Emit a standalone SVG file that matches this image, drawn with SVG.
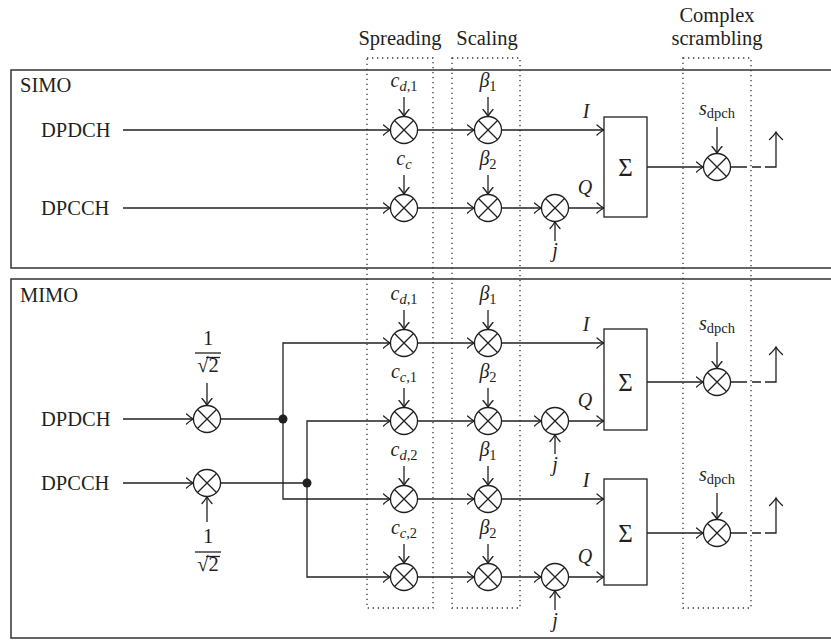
<svg xmlns="http://www.w3.org/2000/svg" xmlns:xlink="http://www.w3.org/1999/xlink" width="831" height="640" viewBox="0 0 831 640">
<style>
text{font-family:"Liberation Serif","Times New Roman",serif;fill:#231f20}
.t{font-size:20.5px}
.lab{font-size:20.5px;text-anchor:middle}
.m{font-size:20px;font-style:italic;text-anchor:middle}
.si{font-size:14.5px;font-style:italic}
.su{font-size:14.5px;font-style:normal}
.sig{font-size:25px;text-anchor:middle}
.frame{fill:none;stroke:#333;stroke-width:1.5}
.stage{fill:none;stroke:#333;stroke-width:1.3;stroke-dasharray:1.3 3.7}
.c{fill:none;stroke:#231f20;stroke-width:1.3}
.ca{fill:none;stroke:#231f20;stroke-width:1.3;marker-end:url(#arr)}
.ant{fill:none;stroke:#231f20;stroke-width:1.3;marker-end:url(#arrbig)}
.box{fill:#fff;stroke:#231f20;stroke-width:1.3}
.mc{fill:#fff;stroke:#231f20;stroke-width:1.3}
.dot{fill:#231f20}
</style>
<defs>
<marker id="arr" viewBox="-8 -6 10 12" refX="0" refY="0" markerWidth="10" markerHeight="12" markerUnits="userSpaceOnUse" orient="auto">
<path d="M-7,-5 Q-2.5,-1 0,0 Q-2.5,1 -7,5" fill="none" stroke="#231f20" stroke-width="1.3" stroke-linecap="round"/>
</marker>
<marker id="arrbig" viewBox="-9 -8 11 16" refX="0" refY="0" markerWidth="11" markerHeight="16" markerUnits="userSpaceOnUse" orient="auto">
<path d="M-7.5,-6.5 Q-2.5,-1.2 0,0 Q-2.5,1.2 -7.5,6.5" fill="none" stroke="#231f20" stroke-width="1.3" stroke-linecap="round"/>
</marker>
<g id="mul">
<circle class="mc" r="13.5"/>
<path class="c" d="M-9.5,-9.5 L9.5,9.5 M-9.5,9.5 L9.5,-9.5"/>
</g>
</defs>
<rect width="831" height="640" fill="#fff"/>

<!-- frames -->
<g id="frames">
<path class="frame" d="M832,70 H11 V268 H832"/>
<path class="frame" d="M832,279 H11 V638 H832"/>
<text class="t" x="20" y="92">SIMO</text>
<text class="t" x="20" y="302">MIMO</text>
</g>

<!-- stage boxes -->
<g id="stages">
<rect class="stage" x="367" y="58" width="66" height="550"/>
<rect class="stage" x="452" y="58" width="68" height="550"/>
<rect class="stage" x="683" y="58" width="68" height="550"/>
<text class="lab" x="400" y="45">Spreading</text>
<text class="lab" x="487" y="45">Scaling</text>
<text class="lab" x="717" y="22">Complex</text>
<text class="lab" x="717" y="45">scrambling</text>
</g>

<!-- connectors -->
<g id="connectors">
<!-- SIMO -->
<path class="ca" d="M123,130 H390.5"/>
<path class="ca" d="M123,208 H390.5"/>
<path class="ca" d="M417.5,130 H474.5"/>
<path class="ca" d="M417.5,208 H474.5"/>
<path class="ca" d="M501.5,130 H604"/>
<path class="ca" d="M501.5,208 H541.5"/>
<path class="ca" d="M568.5,208 H604"/>
<path class="ca" d="M404,97 V116.5"/>
<path class="ca" d="M488,97 V116.5"/>
<path class="ca" d="M404,175 V194.5"/>
<path class="ca" d="M488,175 V194.5"/>
<path class="ca" d="M555,241 V221.5"/>
<path class="ca" d="M647,167 H703.5"/>
<path class="ca" d="M717,127 V153.5"/>
<path class="c" d="M730.5,167 H747 M752,167 H761"/>
<path class="ant" d="M765,167 H776 V132"/>
<!-- MIMO inputs -->
<path class="ca" d="M123,419 H193.5"/>
<path class="ca" d="M123,483 H193.5"/>
<path class="ca" d="M207,383 V405.5"/>
<path class="ca" d="M207,522 V496.5"/>
<path class="c" d="M220.5,419 H283"/>
<path class="c" d="M220.5,483 H307"/>
<path class="ca" d="M283,419 V343 H390.5"/>
<path class="ca" d="M283,419 V499 H390.5"/>
<path class="ca" d="M307,483 V421 H390.5"/>
<path class="ca" d="M307,483 V577 H390.5"/>
<!-- MIMO stages -->
<path class="ca" d="M417.5,343 H474.5"/>
<path class="ca" d="M417.5,421 H474.5"/>
<path class="ca" d="M417.5,499 H474.5"/>
<path class="ca" d="M417.5,577 H474.5"/>
<path class="ca" d="M501.5,343 H604"/>
<path class="ca" d="M501.5,421 H541.5"/>
<path class="ca" d="M568.5,421 H604"/>
<path class="ca" d="M501.5,499 H604"/>
<path class="ca" d="M501.5,577 H541.5"/>
<path class="ca" d="M568.5,577 H604"/>
<path class="ca" d="M404,310 V329.5"/>
<path class="ca" d="M488,310 V329.5"/>
<path class="ca" d="M404,388 V407.5"/>
<path class="ca" d="M488,388 V407.5"/>
<path class="ca" d="M404,466 V485.5"/>
<path class="ca" d="M488,466 V485.5"/>
<path class="ca" d="M404,544 V563.5"/>
<path class="ca" d="M488,544 V563.5"/>
<path class="ca" d="M555,454 V434.5"/>
<path class="ca" d="M555,610 V590.5"/>
<path class="ca" d="M647,382 H703.5"/>
<path class="ca" d="M717,342 V368.5"/>
<path class="c" d="M730.5,382 H747 M752,382 H761"/>
<path class="ant" d="M765,382 H776 V347"/>
<path class="ca" d="M647,533 H703.5"/>
<path class="ca" d="M717,493 V519.5"/>
<path class="c" d="M730.5,533 H747 M752,533 H761"/>
<path class="ant" d="M765,533 H776 V498"/>
</g>

<!-- SIMO nodes -->
<g id="simo-dpdch"><text class="t" x="41" y="137">DPDCH</text></g>
<g id="simo-dpcch"><text class="t" x="41" y="215">DPCCH</text></g>
<g id="simo-spread1"><use xlink:href="#mul" x="404" y="130"/><text class="m" x="404" y="87">c<tspan class="si" dy="4">d</tspan><tspan class="su">,1</tspan></text></g>
<g id="simo-spread2"><use xlink:href="#mul" x="404" y="208"/><text class="m" x="404" y="165">c<tspan class="si" dy="4">c</tspan></text></g>
<g id="simo-scale1"><use xlink:href="#mul" x="488" y="130"/><text class="m" x="488" y="87">β<tspan class="su" dy="4">1</tspan></text></g>
<g id="simo-scale2"><use xlink:href="#mul" x="488" y="208"/><text class="m" x="488" y="165">β<tspan class="su" dy="4">2</tspan></text></g>
<g id="simo-j"><use xlink:href="#mul" x="555" y="208"/><text class="m" x="555" y="257">j</text></g>
<g id="simo-labels"><text class="m" x="586" y="118">I</text><text class="m" x="585" y="194">Q</text></g>
<g id="simo-sum"><rect class="box" x="604" y="117" width="43" height="100"/><text class="sig" x="625.5" y="176">Σ</text></g>
<g id="simo-scramble"><use xlink:href="#mul" x="717" y="167"/><text class="m" x="717" y="115">s<tspan class="su" dy="3">dpch</tspan></text></g>

<!-- MIMO nodes -->
<g id="mimo-dpdch"><text class="t" x="41" y="426">DPDCH</text></g>
<g id="mimo-dpcch"><text class="t" x="41" y="490">DPCCH</text></g>
<g id="mimo-norm1"><use xlink:href="#mul" x="207" y="419"/>
<text class="lab" x="208" y="345">1</text><path class="c" d="M195,353 H221"/>
<text class="lab" x="208" y="372">√2</text><path class="c" d="M206,357.5 H220"/></g>
<g id="mimo-norm2"><use xlink:href="#mul" x="207" y="483"/>
<text class="lab" x="208" y="543">1</text><path class="c" d="M195,552 H221"/>
<text class="lab" x="208" y="571">√2</text><path class="c" d="M206,556.5 H220"/></g>
<g id="mimo-split1"><circle class="dot" cx="283" cy="419" r="4.5"/></g>
<g id="mimo-split2"><circle class="dot" cx="307" cy="483" r="4.5"/></g>

<g id="mimo-spread1"><use xlink:href="#mul" x="404" y="343"/><text class="m" x="404" y="300">c<tspan class="si" dy="4">d</tspan><tspan class="su">,1</tspan></text></g>
<g id="mimo-spread2"><use xlink:href="#mul" x="404" y="421"/><text class="m" x="404" y="378">c<tspan class="si" dy="4">c</tspan><tspan class="su">,1</tspan></text></g>
<g id="mimo-spread3"><use xlink:href="#mul" x="404" y="499"/><text class="m" x="404" y="456">c<tspan class="si" dy="4">d</tspan><tspan class="su">,2</tspan></text></g>
<g id="mimo-spread4"><use xlink:href="#mul" x="404" y="577"/><text class="m" x="404" y="534">c<tspan class="si" dy="4">c</tspan><tspan class="su">,2</tspan></text></g>
<g id="mimo-scale1"><use xlink:href="#mul" x="488" y="343"/><text class="m" x="488" y="300">β<tspan class="su" dy="4">1</tspan></text></g>
<g id="mimo-scale2"><use xlink:href="#mul" x="488" y="421"/><text class="m" x="488" y="378">β<tspan class="su" dy="4">2</tspan></text></g>
<g id="mimo-scale3"><use xlink:href="#mul" x="488" y="499"/><text class="m" x="488" y="456">β<tspan class="su" dy="4">1</tspan></text></g>
<g id="mimo-scale4"><use xlink:href="#mul" x="488" y="577"/><text class="m" x="488" y="534">β<tspan class="su" dy="4">2</tspan></text></g>
<g id="mimo-j1"><use xlink:href="#mul" x="555" y="421"/><text class="m" x="555" y="471">j</text></g>
<g id="mimo-j2"><use xlink:href="#mul" x="555" y="577"/><text class="m" x="555" y="627">j</text></g>
<g id="mimo-labels"><text class="m" x="586" y="331">I</text><text class="m" x="585" y="407">Q</text><text class="m" x="586" y="487">I</text><text class="m" x="585" y="563">Q</text></g>
<g id="mimo-sum1"><rect class="box" x="604" y="329" width="43" height="101"/><text class="sig" x="625.5" y="391">Σ</text></g>
<g id="mimo-sum2"><rect class="box" x="604" y="479" width="43" height="106"/><text class="sig" x="625.5" y="542">Σ</text></g>
<g id="mimo-scramble1"><use xlink:href="#mul" x="717" y="382"/><text class="m" x="717" y="330">s<tspan class="su" dy="3">dpch</tspan></text></g>
<g id="mimo-scramble2"><use xlink:href="#mul" x="717" y="533"/><text class="m" x="717" y="481">s<tspan class="su" dy="3">dpch</tspan></text></g>
</svg>
